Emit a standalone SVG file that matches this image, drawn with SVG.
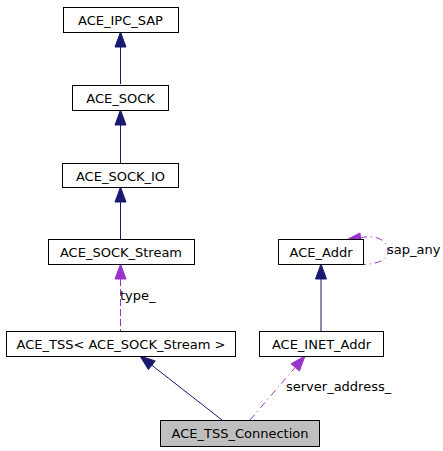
<svg xmlns="http://www.w3.org/2000/svg" width="443" height="451" viewBox="0 0 443 451">
<style>
text{font-family:"DejaVu Sans",sans-serif;font-size:13px;fill:#000}
.n rect{fill:#fff;stroke:#000;stroke-width:1}
.inh{stroke:#191970;stroke-width:1;fill:none}
.inhh{fill:#191970;stroke:#191970}
.use{stroke:#9a32cd;stroke-width:1;fill:none;stroke-dasharray:7,3}
.use2{stroke:#9a32cd;stroke-width:1;fill:none;stroke-dasharray:7,4,1,4}
.useh{fill:#9a32cd;stroke:#9a32cd}
</style>
<rect width="443" height="451" fill="#fff"/>
<g id="connectors">
<line class="inh" x1="120.5" y1="47" x2="120.5" y2="84"/>
<polygon class="inhh" points="120.5,32 115,47 126,47"/>
<line class="inh" x1="120.5" y1="125" x2="120.5" y2="163"/>
<polygon class="inhh" points="120.5,110 115,125 126,125"/>
<line class="inh" x1="120.5" y1="202" x2="120.5" y2="239"/>
<polygon class="inhh" points="120.5,187 115,202 126,202"/>
<line class="use" x1="120.5" y1="279" x2="120.5" y2="331"/>
<polygon class="useh" points="120.5,264 115,279 126,279"/>
<text x="120" y="300">type_</text>
<line class="inh" x1="321" y1="279" x2="321" y2="331"/>
<polygon class="inhh" points="321,264 315.5,279 326.5,279"/>
<path class="use2" d="M360,238 C375,234 388,240 388,251 C388,262 372,266 352,264"/>
<polygon class="useh" points="346,240 360,233 361,243"/>
<text x="387" y="254">sap_any</text>
<line class="inh" x1="222" y1="420" x2="151.8" y2="365.2"/>
<polygon class="inhh" points="140,356 155.2,360.9 148.4,369.5"/>
<line class="use2" x1="250" y1="420" x2="295.2" y2="367.4"/>
<polygon class="useh" points="305,356 299.4,371 291,363.8"/>
<text x="286" y="391">server_address_</text>
</g>
<g id="ACE_IPC_SAP" class="n"><rect x="63.5" y="7.5" width="115" height="25"/><text x="120.5" y="24.5" text-anchor="middle">ACE_IPC_SAP</text></g>
<g id="ACE_SOCK" class="n"><rect x="72.5" y="85.5" width="96" height="25"/><text x="120.5" y="102.5" text-anchor="middle">ACE_SOCK</text></g>
<g id="ACE_SOCK_IO" class="n"><rect x="62.5" y="163.5" width="116" height="24"/><text x="120.5" y="180.5" text-anchor="middle">ACE_SOCK_IO</text></g>
<g id="ACE_SOCK_Stream" class="n"><rect x="48.5" y="239.5" width="146" height="25"/><text x="121" y="256.5" text-anchor="middle">ACE_SOCK_Stream</text></g>
<g id="ACE_Addr" class="n"><rect x="278.5" y="239.5" width="85" height="25"/><text x="321" y="256.5" text-anchor="middle">ACE_Addr</text></g>
<g id="ACE_TSS" class="n"><rect x="6.5" y="331.5" width="229" height="25"/><text x="121" y="348.5" text-anchor="middle">ACE_TSS&lt; ACE_SOCK_Stream &gt;</text></g>
<g id="ACE_INET_Addr" class="n"><rect x="259.5" y="331.5" width="124" height="25"/><text x="321.5" y="348.5" text-anchor="middle">ACE_INET_Addr</text></g>
<g id="ACE_TSS_Connection" class="n"><rect x="160.5" y="420.5" width="159" height="26" style="fill:#bfbfbf"/><text x="240" y="438" text-anchor="middle">ACE_TSS_Connection</text></g>
</svg>
